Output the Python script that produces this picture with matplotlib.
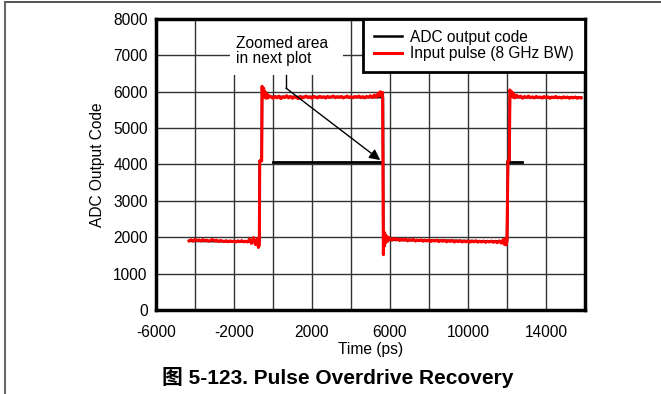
import matplotlib.pyplot as plt
from matplotlib.lines import Line2D
from matplotlib.patches import Rectangle

plt.rcParams['font.family'] = ['Liberation Sans', 'Noto Sans CJK SC', 'DejaVu Sans']
plt.rcParams['axes.unicode_minus'] = False

# Input pulse (8 GHz BW), time in ps
pulse_t = [-4300, -4200, -4100, -4000, -3900, -3800, -3700, -3600, -3500, -3400,
           -3300, -3200, -3100, -3000, -2900, -2800, -2700, -2600, -2500, -2400,
           -2300, -2200, -2100, -2000, -1900, -1800, -1700, -1600, -1500, -1400,
           -1300, -1200, -1100, -1000, -900, -800, -750, -700,
           -680, -600, -580, -560, -520, -480, -440, -400, -350, -300, -250, -200,
           -100, 0, 100, 200, 300, 400, 500, 600, 700, 800,
           900, 1000, 1100, 1200, 1300, 1400, 1500, 1600, 1700, 1800,
           1900, 2000, 2100, 2200, 2300, 2400, 2500, 2600, 2700, 2800,
           2900, 3000, 3100, 3200, 3300, 3400, 3500, 3600, 3700, 3800,
           3900, 4000, 4100, 4200, 4300, 4400, 4500, 4600, 4700, 4800,
           4900, 5000, 5100, 5200, 5300, 5400, 5450, 5500, 5550, 5620,
           5660, 5690, 5720, 5760, 5800, 5850, 5900, 5950,
           6000, 6100, 6200, 6300, 6400, 6500, 6600, 6700, 6800, 6900,
           7000, 7100, 7200, 7300, 7400, 7500, 7600, 7700, 7800, 7900,
           8000, 8100, 8200, 8300, 8400, 8500, 8600, 8700, 8800, 8900,
           9000, 9100, 9200, 9300, 9400, 9500, 9600, 9700, 9800, 9900,
           10000, 10100, 10200, 10300, 10400, 10500, 10600, 10700, 10800, 10900,
           11000, 11100, 11200, 11300, 11400, 11500, 11600, 11700, 11800, 11850,
           11900, 11950, 12000,
           12050, 12120, 12150, 12200, 12250, 12300, 12350, 12400, 12500, 12600,
           12700, 12800, 12900, 13000, 13100, 13200, 13300, 13400, 13500, 13600,
           13700, 13800, 13900, 14000, 14100, 14200, 14300, 14400, 14500, 14600,
           14700, 14800, 14900, 15000, 15100, 15200, 15300, 15400, 15500, 15600,
           15700, 15800]
pulse_code = [1900, 1930, 1890, 1940, 1910, 1925, 1895, 1935, 1905, 1920,
              1890, 1915, 1935, 1900, 1920, 1885, 1910, 1895, 1880, 1905,
              1875, 1900, 1880, 1895, 1870, 1900, 1880, 1905, 1875, 1890,
              1870, 1950, 1830, 1990, 1800, 1960, 1720, 1780,
              4100, 4120, 4100, 6150, 5900, 6100, 5850, 5990, 5820, 5930, 5830, 5890,
              5860, 5820, 5870, 5830, 5880, 5810, 5860, 5840, 5890, 5830,
              5870, 5820, 5860, 5840, 5810, 5870, 5830, 5850, 5880, 5840,
              5860, 5820, 5870, 5845, 5830, 5875, 5840, 5860, 5825, 5870,
              5840, 5860, 5880, 5835, 5865, 5845, 5870, 5830, 5850, 5880,
              5840, 5860, 5835, 5870, 5850, 5880, 5840, 5865, 5830, 5870,
              5850, 5890, 5840, 5910, 5850, 5960, 5880, 6000, 5900, 5980,
              1520, 2150, 1760, 2080, 1860, 2020, 1900, 1990,
              1960, 1920, 1970, 1930, 1950, 1910, 1945, 1920, 1950, 1900,
              1935, 1915, 1940, 1895, 1925, 1905, 1930, 1890, 1920, 1900,
              1925, 1885, 1915, 1895, 1920, 1880, 1910, 1890, 1915, 1875,
              1905, 1885, 1910, 1870, 1900, 1880, 1905, 1870, 1895, 1875,
              1900, 1865, 1895, 1875, 1900, 1865, 1890, 1870, 1895, 1860,
              1890, 1870, 1895, 1860, 1890, 1850, 1900, 1840, 1930, 1810,
              1950, 1790, 1900,
              4100, 4120, 6050, 5900, 6000, 5850, 5940, 5830, 5900, 5850,
              5880, 5820, 5870, 5840, 5880, 5835, 5860, 5830, 5870, 5840,
              5855, 5825, 5870, 5835, 5860, 5820, 5855, 5835, 5870, 5830,
              5850, 5825, 5860, 5835, 5855, 5820, 5850, 5830, 5855, 5820,
              5845, 5830]

# ADC output code (mostly hidden under the input pulse)
adc_t = [-4300, -700, -680, -580, -560, -200, 5600, 5640, 5660, 6000, 12000, 12050, 12120, 12150, 12400, 15800]
adc_code = [1900, 1880, 4100, 4100, 6100, 5860, 5850, 5850, 1950, 1930, 1880, 4100, 4100, 5900, 5850, 5840]

# horizontal markers at mid code
mark1_t = [0, 5600]
mark2_t = [12000, 12750]
mark_code = 4070

fig = plt.figure(figsize=(6.61, 3.94), dpi=100)
ax = fig.add_axes([0.236, 0.2132, 0.649, 0.7386])

ax.set_xlim(-6000, 16000)
ax.set_ylim(0, 8000)
ax.set_xticks(range(-6000, 16001, 4000))
ax.set_xticks(range(-4000, 16001, 4000), minor=True)
ax.set_yticks(range(0, 8001, 1000))
ax.grid(True, which='both', color='#333333', lw=1, zorder=0)
ax.set_axisbelow(True)
ax.tick_params(which='both', length=0, labelsize=11.2, colors='black')
ax.tick_params(axis='y', pad=6)
ax.tick_params(axis='x', pad=11)
for s in ax.spines.values():
    s.set_linewidth(2.5)
    s.set_zorder(5)

ax.plot(adc_t, adc_code, color='black', lw=1.8, label='ADC output code', zorder=2)
ax.plot(pulse_t, pulse_code, color='#ff0000', lw=2.2, label='Input pulse (8 GHz BW)', zorder=3)
ax.plot(mark1_t, [mark_code, mark_code], color='black', lw=2, zorder=2)
ax.plot(mark2_t, [mark_code, mark_code], color='black', lw=2, zorder=2)

# annotation box
ax.add_patch(Rectangle((-2200, 6450), 5800, 1560, facecolor='white', edgecolor='none', zorder=1))
ax.text(-1900, 7130, 'Zoomed area\nin next plot', fontsize=11.2, va='center', ha='left',
        linespacing=1.0, zorder=4)
ax.plot([667, 667], [6450, 6100], color='black', lw=1, zorder=4)
ax.annotate('', xy=(5500, 4120), xytext=(667, 6100),
            arrowprops=dict(arrowstyle='-|>', color='black', lw=1, mutation_scale=16,
                            shrinkA=0, shrinkB=0), zorder=4)

leg = ax.legend(loc='upper right', fontsize=11.2, frameon=True, fancybox=False,
                borderaxespad=0, handlelength=1.8, handletextpad=0.55,
                labelspacing=0.1, borderpad=0.7)
leg.get_frame().set_edgecolor('black')
leg.get_frame().set_linewidth(2)
leg.get_frame().set_alpha(1)
leg.set_zorder(6)

ax.set_xlabel('Time (ps)', fontsize=11.2, labelpad=1)
ax.set_ylabel('ADC Output Code', fontsize=11.2, labelpad=6)

fig.text(0.511, 0.043, '图 5-123. Pulse Overdrive Recovery', fontsize=15, fontweight='bold',
         ha='center', va='center')

# page frame lines
fig.add_artist(Line2D([5 / 661, 1], [1 - 2 / 394, 1 - 2 / 394], color='#333333', lw=1.2))
fig.add_artist(Line2D([5 / 661, 5 / 661], [0, 1 - 2 / 394], color='#666666', lw=1.5))

fig.savefig('out.png', dpi=100)
